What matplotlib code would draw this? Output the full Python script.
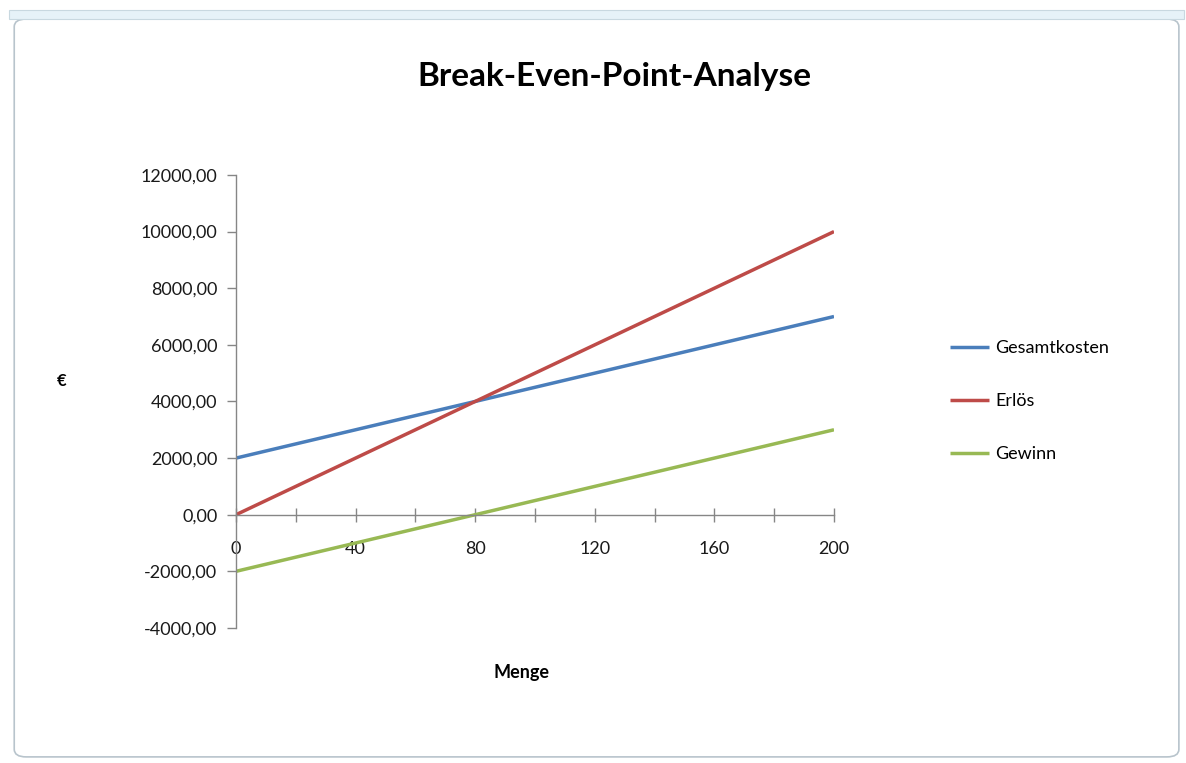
import matplotlib
matplotlib.use("Agg")
import matplotlib.pyplot as plt
from matplotlib.ticker import FuncFormatter, MultipleLocator
from matplotlib.patches import FancyBboxPatch

plt.rcParams['font.family'] = ['Lato', 'DejaVu Sans']

# Daten
menge = [0, 20, 40, 60, 80, 100, 120, 140, 160, 180, 200]
gesamtkosten = [2000, 2500, 3000, 3500, 4000, 4500, 5000, 5500, 6000, 6500, 7000]
erloes = [0, 1000, 2000, 3000, 4000, 5000, 6000, 7000, 8000, 9000, 10000]
gewinn = [-2000, -1500, -1000, -500, 0, 500, 1000, 1500, 2000, 2500, 3000]
serien = ['Gesamtkosten', 'Erlös', 'Gewinn']
farben = ['#4A7EBB', '#BE4B48', '#98B954']

fig = plt.figure(figsize=(11.86, 7.63), dpi=100)

# Rahmen wie im Excel-Diagramm
fig.patches.append(FancyBboxPatch((0.012, 0.008), 0.982, 0.967, boxstyle="round,pad=0,rounding_size=0.01",
                                  transform=fig.transFigure, fc='white', ec='#B8C4CC', lw=1.2, zorder=-2))
fig.patches.append(plt.Rectangle((0.008, 0.975), 0.99, 0.012, transform=fig.transFigure,
                                 fc='#E6F2F8', ec='#C8D8E0', lw=0.8, zorder=-2))

ax = fig.add_axes([0.199, 0.177, 0.5042, 0.5937])
ax.set_facecolor('none')
ax.set_zorder(2)

for werte, name, farbe in zip([gesamtkosten, erloes, gewinn], serien, farben):
    ax.plot(menge, werte, color=farbe, lw=2.5, label=name, solid_capstyle='butt')

ax.set_xlim(0, 200)
ax.set_ylim(-4000, 12000)
ax.yaxis.set_major_locator(MultipleLocator(2000))
ax.yaxis.set_major_formatter(FuncFormatter(lambda v, p: f"{v:.2f}".replace('.', ',')))
ax.xaxis.set_major_locator(MultipleLocator(20))
ax.xaxis.set_major_formatter(FuncFormatter(lambda v, p: f"{int(v)}" if int(round(v)) % 40 == 0 else ""))

for s in ['top', 'right']:
    ax.spines[s].set_visible(False)
ax.spines['bottom'].set_position(('data', 0))
for s in ['left', 'bottom']:
    ax.spines[s].set_color('#868686')
    ax.spines[s].set_linewidth(1.0)

ax.tick_params(axis='x', direction='inout', length=10, width=1, color='#868686', pad=14,
               labelsize=13, labelcolor='#1a1a1a')
ax.tick_params(axis='y', direction='out', length=6.5, width=1, color='#868686', pad=7,
               labelsize=13, labelcolor='#1a1a1a')

fig.text(0.5177, 0.90, 'Break-Even-Point-Analyse', ha='center', va='center', fontsize=24, fontweight='bold')
fig.text(0.0523, 0.5, '€', ha='center', va='center', fontsize=12, fontweight='bold')
fig.text(0.4393, 0.118, 'Menge', ha='center', va='center', fontsize=13, fontweight='bold')

ax.legend(loc='center left', bbox_to_anchor=(1.166, 0.5), frameon=False, fontsize=13,
          handlelength=2.2, handletextpad=0.33, labelspacing=2.05)

fig.savefig('out.png', dpi=100)
